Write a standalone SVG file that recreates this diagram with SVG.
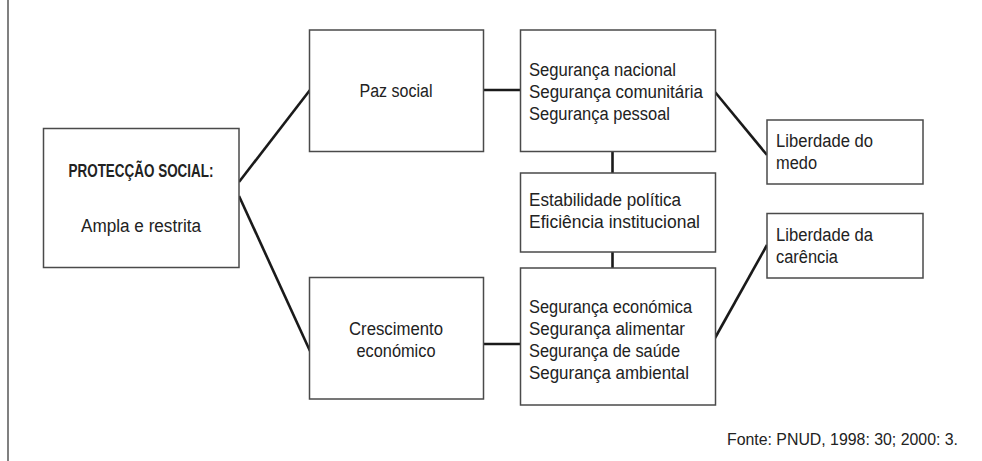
<svg xmlns="http://www.w3.org/2000/svg" width="982" height="461" viewBox="0 0 982 461">
<style>
.box{fill:#fff;stroke:#4a4a4a;stroke-width:1.5}
.t{font-family:"Liberation Sans",Arial,sans-serif;font-size:18px;fill:#222}
.c{text-anchor:middle}
.b{font-weight:bold}
.con line{stroke:#1a1a1a;stroke-width:2.6;stroke-linecap:butt}
</style>
<rect width="982" height="461" fill="#fff"/>
<line x1="8" y1="0" x2="8" y2="461" stroke="#808080" stroke-width="2"/>
<g id="connectors" class="con">
<line x1="239" y1="182" x2="310" y2="90"/>
<line x1="239" y1="196" x2="310" y2="351"/>
<line x1="483" y1="90" x2="521" y2="90"/>
<line x1="483" y1="344" x2="521" y2="344"/>
<line x1="715" y1="92" x2="767" y2="155"/>
<line x1="715" y1="338" x2="767" y2="245"/>
<line x1="612.5" y1="151" x2="612.5" y2="173"/>
<line x1="612.5" y1="252" x2="612.5" y2="268"/>
</g>
<g id="protecao">
<rect class="box" x="43.5" y="128.5" width="195.5" height="139"/>
<text class="t c b" x="141" y="177" textLength="145" lengthAdjust="spacingAndGlyphs">PROTECÇÃO SOCIAL:</text>
<text class="t c" x="141" y="232" textLength="120" lengthAdjust="spacingAndGlyphs">Ampla e restrita</text>
</g>
<g id="paz">
<rect class="box" x="309.5" y="30" width="174" height="121.5"/>
<text class="t c" x="396" y="97" textLength="73" lengthAdjust="spacingAndGlyphs">Paz social</text>
</g>
<g id="crescimento">
<rect class="box" x="309.5" y="277.5" width="174" height="121.5"/>
<text class="t c" x="396" y="335" textLength="94" lengthAdjust="spacingAndGlyphs">Crescimento</text>
<text class="t c" x="396" y="357" textLength="79" lengthAdjust="spacingAndGlyphs">económico</text>
</g>
<g id="seguranca1">
<rect class="box" x="520.5" y="30" width="195" height="121.5"/>
<text class="t" x="529" y="76" textLength="147" lengthAdjust="spacingAndGlyphs">Segurança nacional</text>
<text class="t" x="529" y="98" textLength="174" lengthAdjust="spacingAndGlyphs">Segurança comunitária</text>
<text class="t" x="529" y="120" textLength="141" lengthAdjust="spacingAndGlyphs">Segurança pessoal</text>
</g>
<g id="estabilidade">
<rect class="box" x="520.5" y="173" width="195" height="79"/>
<text class="t" x="529" y="206" textLength="152" lengthAdjust="spacingAndGlyphs">Estabilidade política</text>
<text class="t" x="529" y="228" textLength="171" lengthAdjust="spacingAndGlyphs">Eficiência institucional</text>
</g>
<g id="seguranca2">
<rect class="box" x="520.5" y="268" width="195" height="137"/>
<text class="t" x="529" y="313" textLength="163" lengthAdjust="spacingAndGlyphs">Segurança económica</text>
<text class="t" x="529" y="335" textLength="156" lengthAdjust="spacingAndGlyphs">Segurança alimentar</text>
<text class="t" x="529" y="357" textLength="151" lengthAdjust="spacingAndGlyphs">Segurança de saúde</text>
<text class="t" x="529" y="379" textLength="160" lengthAdjust="spacingAndGlyphs">Segurança ambiental</text>
</g>
<g id="medo">
<rect class="box" x="767" y="120" width="156" height="64"/>
<text class="t" x="776" y="147" textLength="97" lengthAdjust="spacingAndGlyphs">Liberdade do</text>
<text class="t" x="776" y="169" textLength="41" lengthAdjust="spacingAndGlyphs">medo</text>
</g>
<g id="carencia">
<rect class="box" x="767" y="213.5" width="156" height="64.5"/>
<text class="t" x="776" y="241" textLength="97" lengthAdjust="spacingAndGlyphs">Liberdade da</text>
<text class="t" x="776" y="263" textLength="62" lengthAdjust="spacingAndGlyphs">carência</text>
</g>
<text class="t" x="727" y="445" style="font-size:16px" textLength="231" lengthAdjust="spacingAndGlyphs">Fonte: PNUD, 1998: 30; 2000: 3.</text>
</svg>
